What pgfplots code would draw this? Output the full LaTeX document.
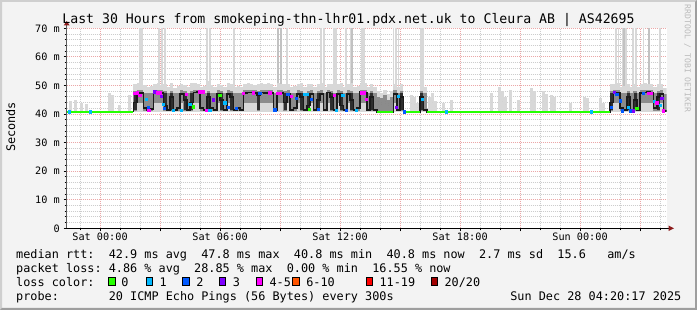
\documentclass[border=0pt]{standalone}
\usepackage{pgfplots}
\pgfplotsset{compat=1.18}
\usepackage{pgfplotstable}
\usepackage{fontspec}
\setmainfont{DejaVu Sans Mono}
\newfontfamily\mono{DejaVu Sans Mono}
\usetikzlibrary{arrows.meta}
\definecolor{bg}{HTML}{F3F3F3}
\definecolor{shadeA}{HTML}{CFCFCF}
\definecolor{shadeB}{HTML}{9E9E9E}
\definecolor{mgrid}{HTML}{EBA8A8}
\definecolor{ngrid}{HTML}{CDCDCD}
\definecolor{arr}{HTML}{8C1C1C}
\definecolor{yax}{HTML}{5A5A5A}
\definecolor{wm}{HTML}{BBBBBB}
\definecolor{l0}{HTML}{26FF00}
\definecolor{l1}{HTML}{00B8FF}
\definecolor{l2}{HTML}{0059FF}
\definecolor{l3}{HTML}{7E00FF}
\definecolor{l4}{HTML}{FF00FF}
\definecolor{l6}{HTML}{FF5500}
\definecolor{l11}{HTML}{FF0000}
\definecolor{l20}{HTML}{A10000}
\definecolor{smkL}{HTML}{D8D8D8}
\definecolor{smkS}{HTML}{C2C2C2}
\definecolor{smkM}{HTML}{8C8C8C}
\definecolor{smkD}{HTML}{2E2E2E}
\definecolor{medc}{HTML}{1A1A1A}
\newcommand\tfont{\mono\fontsize{13.2}{15}\selectfont}
\newcommand\lfont{\mono\fontsize{11.83}{14}\selectfont}
\newcommand\kfont{\mono\fontsize{10.2}{12}\selectfont}
\newcommand\wfont{\mono\fontsize{8.1}{9}\selectfont}
\pgfplotsset{bandstyle/.style={only marks, mark size=0pt, mark options={draw=none,fill=none}, forget plot,
  error bars/.cd, y dir=both, y explicit, error mark=none}}

% busy periods, 10-minute steps: step start t (hours from Sat 00:00)
\pgfplotstableread{
t med lo hi max dlo dhi
1.6667 40.8 40.8 40.8 40.6 40.8 40.8
1.6667 44 41.2 48 50.5 41.4 47.3
1.8333 47.5 43.8 48.3 51 47.5 47.5
2.0 47.3 43.8 48.3 52.5 47.3 47.3
2.1667 42 41.2 47.3 50 42 42
2.3333 41.5 41.2 47.3 49.5 41.5 41.5
2.5 41.8 41.2 47.3 49.8 41.8 41.8
2.6667 47.3 43.8 48.3 50.5 47.3 47.3
2.8333 47.5 43.8 48.3 51 47.5 47.5
3.0 47.3 43.8 48.3 50.2 47.3 47.3
3.1667 43 41.2 48 50.5 41.4 47.3
3.3333 41.5 41.2 47.3 49.5 41.5 41.5
3.5 46 41.2 48 51 41.4 47.3
3.6667 41.5 41.2 47.3 49 41.5 41.5
3.8333 42 41.2 47.3 49.8 42 42
4.0 47 43.8 48.3 50.5 47 47
4.1667 45 41.2 48 50 41.4 47.3
4.3333 41.5 41.2 47.3 49.5 41.5 41.5
4.5 44 41.2 48 50.8 41.4 47.3
4.6667 47.5 43.8 48.3 51 47.5 47.5
4.8333 47.6 43.8 48.3 50.5 47.6 47.6
5.0 42 41.2 47.3 49.5 42 42
5.1667 41.3 41.2 47.3 49.8 41.3 41.3
5.3333 46 41.2 48 51.5 41.4 47.3
5.5 42 41.2 47.3 50 42 42
5.6667 41.5 41.2 47.3 49.5 41.5 41.5
5.8333 47 43.8 48.3 50.5 47 47
6.0 45 41.2 48 50 41.4 47.3
6.1667 41.5 41.2 47.3 49.5 41.5 41.5
6.3333 47 43.8 48.3 51 47 47
6.5 46 41.2 48 50.5 41.4 47.3
6.6667 41.5 41.2 47.3 49.5 41.5 41.5
6.8333 42 41.2 47.3 49.8 42 42
7.0 41.3 41.2 47.3 49.5 41.3 41.3
7.1667 47.3 43.8 48.3 50.5 47.3 47.3
7.3333 47.5 43.8 48.3 51 47.5 47.5
7.5 47.5 43.8 48.3 50.5 47.5 47.5
7.6667 47.3 43.8 48.3 50.2 47.3 47.3
7.8333 46.5 41.2 48 50.5 41.4 47.3
8.0 47.5 43.8 48.3 51 47.5 47.5
8.1667 47.4 43.8 48.3 50.5 47.4 47.4
8.3333 47.5 43.8 48.3 50.8 47.5 47.5
8.5 47.3 43.8 48.3 50.5 47.3 47.3
8.6667 41.5 41.2 47.3 49.5 41.5 41.5
8.8333 47.5 43.8 48.3 51 47.5 47.5
9.0 47.3 43.8 48.3 50.5 47.3 47.3
9.1667 44 41.2 48 50.5 41.4 47.3
9.3333 47 43.8 48.3 50.5 47 47
9.5 41.5 41.2 47.3 49.5 41.5 41.5
9.6667 42 41.2 47.3 49.8 42 42
9.8333 47 43.8 48.3 50.5 47 47
10.0 46 41.2 48 51 41.4 47.3
10.1667 41.5 41.2 47.3 49.5 41.5 41.5
10.3333 43 41.2 48 50.5 41.4 47.3
10.5 47 43.8 48.3 50.5 47 47
10.6667 41.5 41.2 47.3 49.5 41.5 41.5
10.8333 45 41.2 48 50.5 41.4 47.3
11.0 47 43.8 48.3 51 47 47
11.1667 41.5 41.2 47.3 49.5 41.5 41.5
11.3333 47.5 43.8 48.3 50.5 47.5 47.5
11.5 46 41.2 48 50.5 41.4 47.3
11.6667 41.5 41.2 47.3 49.5 41.5 41.5
11.8333 47 43.8 48.3 50.5 47 47
12.0 43 41.2 48 50.8 41.4 47.3
12.1667 41.5 41.2 47.3 49.5 41.5 41.5
12.3333 47 43.8 48.3 50.5 47 47
12.5 45 41.2 48 51 41.4 47.3
12.6667 41.5 41.2 47.3 49.5 41.5 41.5
12.8333 42 41.2 47.3 49.8 42 42
13.0 47.6 43.8 48.3 50.5 47.6 47.6
13.1667 47.5 43.8 48.3 51 47.5 47.5
13.3333 41.5 41.2 47.3 49.5 41.5 41.5
13.5 46 41.2 48 50.5 41.4 47.3
13.6667 41.5 41.2 47.3 49.5 41.5 41.5
13.8333 40.8 41 46 48 40.8 40.8
14.0 40.8 41 45.5 47.5 40.8 40.8
14.1667 40.8 41 46.5 48.5 40.8 40.8
14.3333 40.8 41 45 47 40.8 40.8
14.5 40.8 41 46 48 40.8 40.8
14.6667 47 43.8 48.3 50.5 47 47
14.8333 41.5 41.2 47.3 49.5 41.5 41.5
15.0 46 41.2 48 50.5 41.4 47.3
15.1667 40.8 40.8 40.8 40.6 40.8 40.8
16.0 46 41.2 48 50.5 41.4 47.3
16.1667 41.5 41.2 47.3 49.5 41.5 41.5
16.3333 40.8 40.8 40.8 40.6 40.8 40.8
25.5 44 41.2 48 50.5 41.4 47.3
25.6667 47.3 43.8 48.3 50.5 47.3 47.3
25.8333 47.5 43.8 48.3 51 47.5 47.5
26.0 42 41.2 47.3 49.5 42 42
26.1667 41.5 41.2 47.3 49.8 41.5 41.5
26.3333 46 41.2 48 50.5 41.4 47.3
26.5 41.5 41.2 47.3 49.5 41.5 41.5
26.6667 45 41.2 48 50.5 41.4 47.3
26.8333 41.5 41.2 47.3 49.5 41.5 41.5
27.0 47.3 43.8 48.3 50.5 47.3 47.3
27.1667 47.5 43.8 48.3 51 47.5 47.5
27.3333 47.6 43.8 48.3 50.5 47.6 47.6
27.5 47.3 43.8 48.3 50.5 47.3 47.3
27.6667 42 41.2 47.3 49.5 42 42
27.8333 46 41.2 48 50.5 41.4 47.3
28.0 47 43.8 48.3 50.5 47 47
28.1667 41 41 47 49 41 41
28.3333 41 40.8 40.8 40.6 41 41
}\busy

% tall light spikes (centre time, bottom, top)
\pgfplotstableread{
t lo hi
1.98 41 72
2.1 41 72
2.93 41 72
3.1 41 72
3.25 41 72
5.35 41 72
5.5 41 72
6.7 41 72
9.33 41 72
11.05 41 72
11.2 41 72
11.7 41 72
11.8 41 72
12.3 41 72
12.55 41 72
13.1 41 72
13.2 41 72
14.67 41 72
14.8 41 72
14.92 41 72
16.05 41 72
16.15 41 72
25.8 41 72
25.92 41 72
26.12 41 72
26.3 41 72
26.65 41 72
26.78 41 72
27.17 41 72
27.42 41 72
28.0 41 72
}\tallL

\pgfplotstableread{
t lo hi
2.05 41 52.5
8.9 41 72
9.05 41 72
12.6 41 72
26.2 41 72
27.45 41 72
}\tallS

% light smoke in quiet periods (centre time, top)
\pgfplotstableread{
t hi
-1.5 44.5
-1.25 45
-0.95 44
-0.7 43.5
0.45 47.5
0.6 46.5
0.95 43
1.45 46.5
15.55 46.6
15.7 46
15.87 44
16.45 46
16.6 47.5
16.75 44.5
17.15 44
17.55 45
19.55 47.5
19.95 49.3
20.1 48
20.28 46
20.53 48.5
20.9 45
21.55 49
21.7 48
22.15 48
22.3 47
22.55 46.5
22.7 46
23.5 44
24.2 46
24.35 45.5
25.03 45.5
25.15 44
}\qsmoke

% median loss-colour segments
\pgfplotstableread{
t v c
-1.55 40.8 a
-0.5 40.8 a
15.2 40.8 b
17.3 40.8 a
24.55 40.8 a
1.73 47.4 d
1.87 47.5 d
1.98 46.6 d
2.32 45.2 a
2.4 42.5 b
2.43 41.4 d
2.73 47.8 c
2.87 47.5 d
2.98 47.5 d
3.07 46.3 c
3.15 43.5 a
3.2 42 b
3.65 41.3 a
4.07 41.3 a
4.32 46.9 d
4.48 43.4 a
4.65 42.6 g
4.98 47.8 d
5.15 47.8 d
5.32 41.3 d
5.48 41.3 a
5.65 45 c
5.98 46.7 g
6.23 44 a
6.4 42.5 b
6.82 42 b
7.15 47.3 d
7.65 47.5 d
7.98 47.4 b
8.48 47.5 d
8.73 41.5 b
8.85 47.4 d
9.0 47.4 d
9.38 47 b
9.55 46.3 d
9.8 45.5 b
10.2 47 a
10.35 47 a
10.45 41.6 g
10.55 45.3 b
10.9 41.6 b
11.7 46.5 d
11.8 41.3 a
12.13 46.5 a
12.3 41.3 b
12.8 41.3 a
13.05 47.5 d
13.2 47.5 d
13.3 45.3 d
14.8 42.5 c
14.9 46.3 a
16.1 45.2 a
25.55 42.3 b
25.7 47.6 c
25.83 47 b
26.0 44.7 b
26.1 41.2 b
26.42 42.5 a
26.5 41.2 b
26.65 41.2 c
26.83 42 g
27.17 47.2 b
27.4 47.3 d
27.55 47.3 d
27.7 44.5 a
27.83 44 d
28.0 43 a
28.08 45.5 c
28.17 41.2 d
}\lossdots

\begin{document}
\begin{tikzpicture}[x=1pt,y=1pt]
\useasboundingbox (0,0) rectangle (697,310);
\fill[bg] (0,0) rectangle (697,310);
\fill[shadeA] (0,310) -- (697,310) -- (695,308) -- (2,308) -- (2,2) -- (0,0) -- cycle;
\fill[shadeB] (697,310) -- (697,0) -- (0,0) -- (2,2) -- (695,2) -- (695,308) -- cycle;

\begin{axis}[
  at={(66.7pt,81.7pt)}, anchor=south west,
  scale only axis, width=600pt, height=200pt,
  xmin=-1.6667, xmax=28.3333, ymin=0, ymax=70,
  axis x line*=bottom, axis y line*=left,
  x axis line style={draw=none}, y axis line style={draw=none},
  xtick={0,3,...,27},
  xticklabels={Sat 00:00,,Sat 06:00,,Sat 12:00,,Sat 18:00,,Sun 00:00,},
  minor xtick={-1,1,2,4,5,7,8,10,11,13,14,16,17,19,20,22,23,25,26,28},
  ytick={0,10,...,70},
  yticklabels={0,10 m,20 m,30 m,40 m,50 m,60 m,70 m},
  minor ytick={2,4,6,8,12,14,16,18,22,24,26,28,32,34,36,38,42,44,46,48,52,54,56,58,62,64,66,68},
  grid=both,
  major grid style={mgrid, line width=1pt, dash pattern=on 1pt off 1pt},
  minor grid style={ngrid, line width=1pt, dash pattern=on 1pt off 1pt},
  tick style={black, line width=0.8pt},
  major tick length=3pt, minor tick length=2pt, tick align=outside,
  /pgf/number format/assume math mode=true,
  ticklabel style={font=\kfont},
  xticklabel style={anchor=north, inner sep=0pt, yshift=-1.7pt},
  yticklabel style={anchor=east, inner sep=0pt, xshift=-3.7pt},
  axis background/.style={fill=white},
  clip=true,
]
% tall spikes
\addplot[bandstyle, error bar style={line width=1.8pt, draw=smkL}]
  table[x=t, y expr=(\thisrow{lo}+\thisrow{hi})/2, y error expr=(\thisrow{hi}-\thisrow{lo})/2] {\tallL};
\addplot[bandstyle, error bar style={line width=2.2pt, draw=smkS}]
  table[x=t, y expr=(\thisrow{lo}+\thisrow{hi})/2, y error expr=(\thisrow{hi}-\thisrow{lo})/2] {\tallS};
% light smoke in quiet periods
\addplot[bandstyle, error bar style={line width=3pt, draw=smkL}]
  table[x=t, y expr=(\thisrow{hi}+40.8)/2, y error expr=(\thisrow{hi}-40.8)/2] {\qsmoke};
% busy smoke: light outer layer
\addplot[bandstyle, error bar style={line width=3.5pt, draw=smkL}]
  table[x expr=\thisrow{t}+0.08333, y expr=(\thisrow{max}+40.6)/2, y error expr=(\thisrow{max}-40.6)/2] {\busy};
% mid band
\addplot[bandstyle, error bar style={line width=3.5pt, draw=smkM}]
  table[x expr=\thisrow{t}+0.08333, y expr=(\thisrow{hi}+\thisrow{lo})/2, y error expr=(\thisrow{hi}-\thisrow{lo})/2] {\busy};
% dark core
\addplot[bandstyle, error bar style={line width=3pt, draw=smkD}]
  table[x expr=\thisrow{t}+0.08333, y expr=(\thisrow{dhi}+\thisrow{dlo})/2, y error expr=(\thisrow{dhi}-\thisrow{dlo})/2] {\busy};
% median
\addplot[const plot, draw=medc, line width=1.6pt, mark=none] table[x=t, y=med] {\busy};
% zero-loss median (green)
\addplot[draw=l0, line width=2.2pt, line cap=butt] coordinates {(-1.6667,40.8) (1.6667,40.8)};
\addplot[draw=l0, line width=2.2pt, line cap=butt] coordinates {(13.8333,40.8) (14.6667,40.8)};
\addplot[draw=l0, line width=2.2pt, line cap=butt] coordinates {(15.1667,40.8) (16.0,40.8)};
\addplot[draw=l0, line width=2.2pt, line cap=butt] coordinates {(16.3333,40.8) (25.5,40.8)};
% loss-coloured median segments
\addplot[scatter, only marks, mark=square*, mark size=1.15pt, point meta=explicit symbolic,
  scatter/classes={a={draw=l1,fill=l1}, b={draw=l2,fill=l2}, c={draw=l3,fill=l3}, d={draw=l4,fill=l4}, g={draw=l0,fill=l0}}]
  table[x=t, y=v, meta=c] {\lossdots};
\end{axis}

% axis lines and arrows
\draw[yax, line width=1pt] (66.7,81.7) -- (66.7,285);
\fill[arr] (63.7,284.5) -- (69.7,284.5) -- (66.7,289) -- cycle;
\draw[black, line width=1pt] (66.2,81.7) -- (669,81.7);
\fill[arr] (668.5,84.5) -- (668.5,78.9) -- (674,81.7) -- cycle;

% title and labels
\node[anchor=base, inner sep=0] at (348.5,286) {\tfont Last 30 Hours from smokeping-thn-lhr01.pdx.net.uk to Cleura AB | AS42695};
\node[rotate=90, inner sep=0] at (10.8,183) {\lfont Seconds};
\node[rotate=-90, inner sep=0, text=wm] at (687.5,251.5) {\wfont RRDTOOL / TOBI OETIKER};

% legend
\node[anchor=base west, inner sep=0] at (16,51.5) {\lfont median rtt:~~42.9 ms avg~~47.8 ms max~~40.8 ms min~~40.8 ms now~~2.7 ms sd~~15.6~~~am/s};
\node[anchor=base west, inner sep=0] at (16,37.4) {\lfont packet loss:~4.86 \% avg~~28.85 \% max~~0.00 \% min~~16.55 \% now};
\node[anchor=base west, inner sep=0] at (16,23.3) {\lfont loss color:};
\foreach \bx/\col/\tx/\lab in {108.8/l0/121.1/{0}, 146.2/l1/159.4/{1}, 182.8/l2/196.1/{2}, 219.5/l3/232.7/{3}, 256.2/l4/269.4/{4-5}, 292.8/l6/306.1/{6-10}, 366.2/l11/379.4/{11-19}, 431.2/l20/444.4/{20/20}}{
  \filldraw[fill=\col, draw=black, line width=1pt] (\bx,24.8) rectangle ++(6.4,7.4);
  \node[anchor=base west, inner sep=0] at (\tx,23.3) {\lfont \lab};
}
\node[anchor=base west, inner sep=0] at (16,9.2) {\lfont probe:~~~~~~~20 ICMP Echo Pings (56 Bytes) every 300s};
\node[anchor=base east, inner sep=0] at (681.5,9.2) {\lfont Sun Dec 28 04:20:17 2025};
\end{tikzpicture}
\end{document}
